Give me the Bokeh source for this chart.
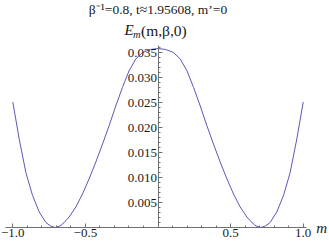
from bokeh.plotting import figure
from bokeh.models import FixedTicker, Label, Range1d
from bokeh.embed import file_html
from bokeh.resources import INLINE

# Curve E_m'(m, beta, 0)
m_vals = [-1.000, -0.956, -0.910, -0.864, -0.818, -0.772, -0.740, -0.708, -0.676, -0.657,
          -0.612, -0.566, -0.520, -0.475, -0.428, -0.382, -0.336, -0.291, -0.245, -0.200,
          -0.153, -0.107, -0.053, 0.000,
          0.053, 0.107, 0.153, 0.200, 0.245, 0.291, 0.336, 0.382, 0.428, 0.475,
          0.520, 0.566, 0.612, 0.657, 0.676, 0.708, 0.740, 0.772, 0.818, 0.864,
          0.910, 0.956, 1.000]
E_vals = [0.0251, 0.0177, 0.0110, 0.0064, 0.0031, 0.0010, 0.0003, 0.0000, 0.0003, 0.0007,
          0.0021, 0.0041, 0.0067, 0.0097, 0.0131, 0.0167, 0.0204, 0.0243, 0.0280, 0.0313,
          0.0337, 0.0350, 0.0356, 0.0358,
          0.0356, 0.0350, 0.0337, 0.0313, 0.0280, 0.0243, 0.0204, 0.0167, 0.0131, 0.0097,
          0.0067, 0.0041, 0.0021, 0.0007, 0.0003, 0.0000, 0.0003, 0.0010, 0.0031, 0.0064,
          0.0110, 0.0177, 0.0251]

x_major = [-1.0, -0.5, 0.5, 1.0]
x_major_labels = ["\u22121.0", "\u22120.5", "0.5", "1.0"]
x_minor = [-0.9, -0.8, -0.7, -0.6, -0.4, -0.3, -0.2, -0.1, 0.1, 0.2, 0.3, 0.4,
           0.6, 0.7, 0.8, 0.9]
y_major = [0.005, 0.010, 0.015, 0.020, 0.025, 0.030, 0.035]
y_major_labels = ["0.005", "0.010", "0.015", "0.020", "0.025", "0.030", "0.035"]
y_minor = [0.001, 0.002, 0.003, 0.004, 0.006, 0.007, 0.008, 0.009, 0.011, 0.012,
           0.013, 0.014, 0.016, 0.017, 0.018, 0.019, 0.021, 0.022, 0.023, 0.024,
           0.026, 0.027, 0.028, 0.029, 0.031, 0.032, 0.033, 0.034, 0.036]

title_text = "\u03b2\u207b\u00b9=0.8, t\u22481.95608, m\u2019=0"
ylabel_main = "E"
ylabel_sub = "m\u2032"
ylabel_args = "(m,\u03b2,0)"
xlabel_text = "m"

FONT = "Liberation Serif"
LINE_COLOR = "#5a5ab8"
AXIS_COLOR = "#707070"
TEXT_COLOR = "#1a1a1a"

p = figure(width=329, height=245, output_backend="svg", toolbar_location=None,
           x_range=Range1d(-1.0847, 1.181), y_range=Range1d(-0.0036, 0.0454),
           min_border_left=0, min_border_right=0, min_border_top=0,
           min_border_bottom=0)
p.outline_line_color = None
p.grid.visible = False
p.background_fill_color = "white"
p.border_fill_color = "white"

p.line(m_vals, E_vals, line_color=LINE_COLOR, line_width=1)

xa = p.xaxis[0]
xa.ticker = FixedTicker(ticks=x_major, minor_ticks=x_minor)
xa.major_label_overrides = dict(zip(x_major, x_major_labels))
xa.fixed_location = 0
xa.bounds = (-1.05, 1.025)
ya = p.yaxis[0]
ya.ticker = FixedTicker(ticks=y_major, minor_ticks=y_minor)
ya.major_label_overrides = dict(zip(y_major, y_major_labels))
ya.fixed_location = 0
ya.bounds = (0, 0.0364)

for ax in (xa, ya):
    ax.axis_line_color = AXIS_COLOR
    ax.major_tick_line_color = AXIS_COLOR
    ax.minor_tick_line_color = AXIS_COLOR
    ax.major_tick_in = 4
    ax.major_tick_out = 0
    ax.minor_tick_in = 2
    ax.minor_tick_out = 0
    ax.major_label_text_font = FONT
    ax.major_label_text_font_size = "13px"
    ax.major_label_text_color = TEXT_COLOR
    ax.major_label_standoff = 1

def lab(text, x, y, xo, yo, size, style="normal", align="left", baseline="middle"):
    p.add_layout(Label(x=x, y=y, x_offset=xo, y_offset=yo, text=text,
                       text_font=FONT, text_font_size=size, text_font_style=style,
                       text_align=align, text_baseline=baseline,
                       text_color=TEXT_COLOR))

lab(title_text, 0, 0, 0, 218.5, "13.5px", align="center")
lab(ylabel_main, 0, 0, -33.5, 197.5, "15px", style="italic")
lab(ylabel_sub, 0, 0, -25, 193, "10.5px", style="italic")
lab(ylabel_args, 0, 0, -17, 197.5, "15.5px")
lab(xlabel_text, 1.0, 0, 13, 0, "15px", style="italic")

open("out.html", "w").write(file_html(p, INLINE))
